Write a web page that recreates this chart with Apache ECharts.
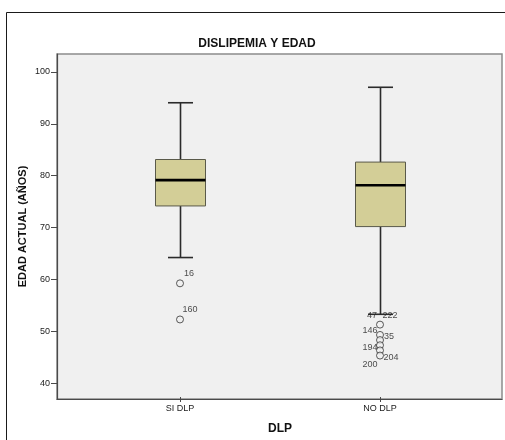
<!DOCTYPE html>
<html>
<head>
<meta charset="utf-8">
<style>
  html, body { margin: 0; padding: 0; background: #ffffff; }
  #chart { width: 505px; height: 440px; }
</style>
<script src="https://cdn.jsdelivr.net/npm/echarts@6/dist/echarts.min.js"></script>
</head>
<body>
<div id="chart"></div>
<script>
// Age by dyslipidemia group: five-number summaries per group
const categories = ['SI DLP', 'NO DLP'];
const whiskerLow = [64, 53];
const quartile1 = [74, 70];
const medians = [79, 78];
const quartile3 = [83, 82.5];
const whiskerHigh = [94, 97];

// Outlying cases: group, age, case number
const outlierGroups = ['SI DLP', 'SI DLP', 'NO DLP', 'NO DLP', 'NO DLP', 'NO DLP', 'NO DLP', 'NO DLP'];
const outlierAges = [59, 52, 51, 49, 48, 47, 46, 45];

const caseGroups = ['SI DLP', 'SI DLP', 'NO DLP', 'NO DLP', 'NO DLP', 'NO DLP', 'NO DLP', 'NO DLP', 'NO DLP'];
const caseAges = [59, 52, 51, 51, 49, 49, 47, 45, 45];
const caseIds = ['16', '160', '47', '222', '146', '35', '194', '204', '200'];

const yTicks = [40, 50, 60, 70, 80, 90, 100];

// Where each case number sits relative to its circle (px)
const caseLabelOffset = {
  '16': [9, -10], '160': [10, -10],
  '47': [-8, -9], '222': [10, -9],
  '146': [-10, -4], '35': [9, 2],
  '194': [-10, 2], '204': [11, 2], '200': [-10, 9]
};

const Y_MIN = 36.97, Y_MAX = 103.45;
const FONT = 'Liberation Sans, Arial, sans-serif';

const chart = echarts.init(document.getElementById('chart'), null, { renderer: 'canvas' });

const boxData = categories.map((c, i) =>
  [i, whiskerLow[i], quartile1[i], medians[i], quartile3[i], whiskerHigh[i]]);

function renderBox(params, api) {
  const x = api.value(0);
  const lo = api.coord([x, api.value(1)]);
  const q1 = api.coord([x, api.value(2)]);
  const md = api.coord([x, api.value(3)]);
  const q3 = api.coord([x, api.value(4)]);
  const hi = api.coord([x, api.value(5)]);
  const cx = Math.round(lo[0]) + 0.5;
  const half = 25, cap = 12.5;
  const dark = '#2b2b2b';
  return {
    type: 'group',
    children: [
      { type: 'line', shape: { x1: cx, y1: hi[1], x2: cx, y2: q3[1] }, style: { stroke: dark, lineWidth: 1.6 } },
      { type: 'line', shape: { x1: cx, y1: q1[1], x2: cx, y2: lo[1] }, style: { stroke: dark, lineWidth: 1.6 } },
      { type: 'line', shape: { x1: cx - cap, y1: hi[1], x2: cx + cap, y2: hi[1] }, style: { stroke: dark, lineWidth: 1.6 } },
      { type: 'line', shape: { x1: cx - cap, y1: lo[1], x2: cx + cap, y2: lo[1] }, style: { stroke: dark, lineWidth: 1.6 } },
      { type: 'rect', shape: { x: cx - half, y: q3[1], width: 2 * half, height: q1[1] - q3[1] },
        style: { fill: '#d3ce97', stroke: '#5a5a4a', lineWidth: 1 } },
      { type: 'line', shape: { x1: cx - half, y1: md[1], x2: cx + half, y2: md[1] }, style: { stroke: '#000000', lineWidth: 2.6 } }
    ]
  };
}

const option = {
  animation: false,
  backgroundColor: '#ffffff',
  textStyle: { fontFamily: FONT },
  title: {
    text: 'DISLIPEMIA Y EDAD',
    left: 252, top: 33, textAlign: 'center',
    textStyle: { fontFamily: FONT, fontSize: 12, fontWeight: 'bold', color: '#111' }
  },
  graphic: [{
    type: 'rect', silent: true, z: -10,
    shape: { x: 6.5, y: 12.5, width: 600, height: 500 },
    style: { fill: 'none', stroke: '#1a1a1a', lineWidth: 1 }
  }],
  grid: [
    // plot frame with value scale
    { left: 57, right: 3, top: 54, bottom: 41, show: true, backgroundColor: '#f0f0f0', borderColor: '#8c8c8c', borderWidth: 1.5 },
    // group positions
    { left: 80, right: 25, top: 54, bottom: 41 }
  ],
  xAxis: [
    { gridIndex: 0, type: 'value', min: 0, max: 1,
      axisLine: { show: true, lineStyle: { color: '#4a4a4a', width: 1.2 } },
      axisTick: { show: false }, axisLabel: { show: false }, splitLine: { show: false } },
    { gridIndex: 1, type: 'category', data: categories,
      axisLine: { show: false },
      axisTick: { show: true, alignWithLabel: true, length: 5, lineStyle: { color: '#4a4a4a' } },
      axisLabel: { fontFamily: FONT, fontSize: 9, color: '#222', margin: 7 },
      name: 'DLP', nameLocation: 'middle', nameGap: 26,
      nameTextStyle: { fontFamily: FONT, fontSize: 12, fontWeight: 'bold', color: '#111' } }
  ],
  yAxis: [
    { gridIndex: 0, type: 'value', min: Y_MIN, max: Y_MAX,
      axisLine: { show: true, lineStyle: { color: '#4a4a4a', width: 1.2 } },
      axisTick: { show: true, inside: false, length: 6, lineStyle: { color: '#4a4a4a' }, customValues: yTicks },
      axisLabel: { fontFamily: FONT, fontSize: 9, color: '#222', margin: 7, customValues: yTicks },
      splitLine: { show: false },
      name: 'EDAD ACTUAL (AÑOS)', nameLocation: 'middle', nameGap: 29, nameRotate: 90,
      nameMoveOverlap: false,
      nameTextStyle: { fontFamily: FONT, fontSize: 11, fontWeight: 'bold', color: '#111' } },
    { gridIndex: 1, type: 'value', min: Y_MIN, max: Y_MAX, show: false, splitLine: { show: false } }
  ],
  series: [
    {
      type: 'custom', xAxisIndex: 1, yAxisIndex: 1,
      renderItem: renderBox, data: boxData, z: 3
    },
    {
      type: 'scatter', xAxisIndex: 1, yAxisIndex: 1, z: 4,
      symbol: 'circle', symbolSize: 7,
      itemStyle: { color: '#f0f0f0', borderColor: '#333333', borderWidth: 1 },
      data: outlierGroups.map((g, i) => [g, outlierAges[i]])
    },
    {
      type: 'scatter', xAxisIndex: 1, yAxisIndex: 1, z: 5,
      symbolSize: 0, silent: true,
      label: { show: true, position: 'inside', fontFamily: FONT, fontSize: 9, color: '#222',
               formatter: p => p.data.caseId },
      data: caseGroups.map((g, i) => ({
        value: [g, caseAges[i]],
        caseId: caseIds[i],
        label: { offset: caseLabelOffset[caseIds[i]] }
      }))
    }
  ]
};

chart.setOption(option);
</script>
</body>
</html>
